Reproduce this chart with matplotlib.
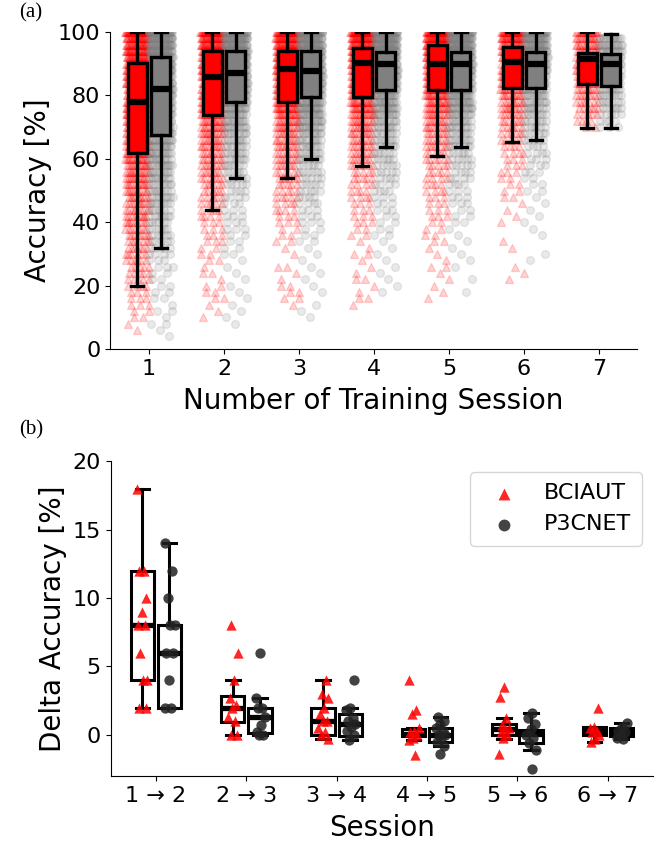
import numpy as np
import matplotlib
matplotlib.use("Agg")
import matplotlib.pyplot as plt

# ---- panel (a): accuracy per training session ----
sessions = ['1', '2', '3', '4', '5', '6', '7']
# accuracy levels of the single runs, 100 % down to 0 % in steps of 2
acc_levels = list(range(100, -1, -2))

# number of runs at each accuracy level (read from point density)
bciaut_counts = [
    [40, 30, 30, 30, 30, 30, 28, 28, 28, 26, 26, 26, 24, 24, 22, 22, 20, 20, 18, 18,
     16, 14, 14, 12, 12, 12, 10, 10, 10, 9, 9, 8, 8, 7, 7, 6, 6, 5, 5, 5,
     4, 3, 3, 3, 2, 2, 1, 1, 0, 0, 0],
    [36, 30, 30, 30, 28, 28, 28, 26, 26, 24, 22, 20, 18, 16, 14, 12, 12, 10, 10, 9,
     8, 8, 7, 7, 6, 6, 5, 5, 4, 4, 3, 3, 3, 3, 2, 2, 2, 1, 2, 1,
     2, 2, 2, 1, 1, 1, 0, 0, 0, 0, 0],
    [38, 32, 32, 30, 30, 30, 28, 28, 26, 24, 22, 20, 18, 16, 14, 12, 10, 10, 9, 8,
     8, 7, 6, 6, 5, 5, 5, 4, 4, 3, 3, 2, 2, 2, 1, 1, 0, 2, 1, 1,
     2, 2, 2, 1, 0, 0, 0, 0, 0, 0, 0],
    [40, 34, 32, 32, 30, 30, 28, 26, 24, 22, 20, 18, 16, 14, 12, 10, 10, 9, 8, 8,
     7, 6, 5, 5, 4, 4, 4, 3, 3, 3, 3, 2, 2, 1, 1, 2, 1, 1, 1, 2,
     1, 1, 2, 1, 0, 0, 0, 0, 0, 0, 0],
    [42, 36, 34, 32, 30, 28, 26, 24, 22, 20, 18, 16, 14, 12, 10, 9, 8, 8, 7, 6,
     6, 5, 5, 4, 4, 4, 3, 3, 3, 3, 2, 2, 2, 2, 1, 1, 1, 2, 1, 1,
     1, 1, 1, 0, 0, 0, 0, 0, 0, 0, 0],
    [30, 26, 24, 24, 22, 20, 18, 16, 14, 12, 11, 10, 9, 8, 7, 6, 6, 5, 4, 4,
     3, 3, 3, 2, 2, 2, 2, 1, 1, 1, 1, 0, 0, 1, 1, 0, 0, 1, 1, 1,
     0, 0, 0, 0, 0, 0, 0, 0, 0, 0, 0],
    [16, 14, 14, 14, 14, 12, 12, 10, 10, 9, 8, 7, 6, 5, 4, 2, 0, 0, 0, 0,
     0, 0, 0, 0, 0, 0, 0, 0, 0, 0, 0, 0, 0, 0, 0, 0, 0, 0, 0, 0,
     0, 0, 0, 0, 0, 0, 0, 0, 0, 0, 0],
]
p3cnet_counts = [
    [40, 32, 32, 30, 30, 30, 28, 28, 28, 26, 26, 24, 22, 22, 20, 18, 18, 16, 14, 14,
     12, 12, 10, 10, 9, 9, 8, 8, 7, 7, 6, 6, 5, 5, 5, 4, 3, 3, 2, 2,
     2, 2, 2, 1, 2, 1, 2, 1, 1, 0, 0],
    [36, 32, 30, 30, 30, 28, 28, 26, 24, 22, 20, 18, 16, 14, 12, 11, 10, 9, 8, 8,
     7, 6, 6, 5, 5, 4, 4, 3, 3, 3, 3, 3, 2, 2, 2, 2, 1, 1, 1, 1,
     1, 1, 1, 1, 1, 1, 1, 0, 0, 0, 0],
    [38, 32, 32, 30, 30, 30, 28, 28, 26, 24, 22, 20, 18, 16, 14, 12, 11, 10, 9, 8,
     7, 6, 6, 5, 5, 5, 4, 4, 3, 3, 3, 2, 2, 2, 1, 1, 1, 1, 1, 1,
     1, 1, 0, 1, 1, 1, 0, 0, 0, 0, 0],
    [40, 34, 32, 32, 30, 28, 26, 24, 22, 20, 18, 16, 14, 12, 10, 9, 8, 8, 7, 6,
     6, 5, 5, 4, 4, 4, 3, 3, 3, 2, 2, 2, 2, 1, 1, 1, 1, 1, 1, 1,
     1, 1, 0, 0, 0, 0, 0, 0, 0, 0, 0],
    [40, 34, 32, 32, 30, 28, 26, 24, 22, 20, 18, 16, 14, 12, 10, 9, 8, 8, 7, 6,
     5, 5, 4, 4, 4, 3, 3, 3, 2, 2, 2, 1, 1, 1, 1, 1, 1, 1, 0, 1,
     0, 1, 0, 0, 0, 0, 0, 0, 0, 0, 0],
    [30, 26, 24, 24, 22, 20, 18, 16, 14, 12, 11, 10, 9, 8, 7, 6, 6, 5, 4, 4,
     3, 3, 3, 2, 2, 2, 1, 1, 1, 1, 1, 1, 1, 0, 0, 1, 1, 0, 0, 0,
     0, 0, 0, 0, 0, 0, 0, 0, 0, 0, 0],
    [0, 14, 14, 14, 14, 12, 12, 10, 10, 9, 8, 7, 6, 5, 4, 3, 0, 0, 0, 0,
     0, 0, 0, 0, 0, 0, 0, 0, 0, 0, 0, 0, 0, 0, 0, 0, 0, 0, 0, 0,
     0, 0, 0, 0, 0, 0, 0, 0, 0, 0, 0],
]

# box statistics
bciaut_q1 = [61.7, 73.8, 78.0, 79.6, 81.7, 82.5, 83.6]
bciaut_med = [78.0, 85.9, 88.5, 90.1, 90.0, 90.6, 91.4]
bciaut_q3 = [90.1, 94.0, 94.0, 94.9, 95.9, 95.2, 93.5]
bciaut_lo = [20.0, 44.0, 54.0, 57.8, 61.0, 65.2, 69.6]
bciaut_hi = [100, 100, 100, 100, 100, 100, 100]
p3cnet_q1 = [67.5, 77.8, 79.6, 81.7, 81.7, 82.5, 82.9]
p3cnet_med = [81.9, 87.0, 87.8, 90.0, 90.0, 90.0, 90.0]
p3cnet_q3 = [92.0, 94.0, 94.0, 93.8, 93.8, 93.8, 93.0]
p3cnet_lo = [32.0, 53.8, 59.8, 63.8, 63.8, 66.0, 69.6]
p3cnet_hi = [100, 100, 100, 100, 100, 100, 99.3]

# ---- panel (b): accuracy change between sessions ----
transitions = ['1 → 2', '2 → 3', '3 → 4', '4 → 5', '5 → 6', '6 → 7']
bciaut_delta = [
    [18, 12, 12, 10, 9, 8, 8, 6, 4, 4, 2, 2],
    [8, 6, 4, 2.7, 2.2, 2, 1.3, 1, 0, 0],
    [4, 3, 2.7, 2, 1.5, 1, 1, 0.5, 0.2, 0, -0.3],
    [4, 1.8, 1.5, 0.5, 0.3, 0.2, 0, -0.2, -0.4, -1.5],
    [3.5, 2.8, 1.2, 0.7, 0.5, 0.4, 0.2, 0, -0.2, -1.4],
    [2, 0.6, 0.5, 0.3, 0.2, 0, -0.3, -0.5],
]
p3cnet_delta = [
    [14, 12, 10, 8, 8, 6, 6, 4, 2, 2],
    [6, 2.7, 2, 2, 1.3, 0.7, 0.2, 0, 0],
    [4, 2, 1.8, 1.2, 1, 0.8, 0.6, 0.3, 0, -0.4],
    [1.3, 1, 0.8, 0.5, 0.3, 0, 0, -0.2, -0.5, -0.8, -1.4],
    [1.6, 1.2, 0.8, 0.4, 0, -0.2, -0.6, -1.1, -2.5],
    [0.9, 0.6, 0.3, 0.2, 0, -0.2, -0.3],
]
bd_q1 = [4, 0.95, 0, -0.1, 0, 0]
bd_med = [8, 2, 1, 0.1, 0.4, 0.3]
bd_q3 = [12, 2.85, 2, 0.4, 0.8, 0.6]
bd_lo = [2, 0, -0.3, -0.4, -0.3, -0.5]
bd_hi = [18, 4, 4, 0.5, 1.2, 0.6]
pd_q1 = [2, 0.15, -0.1, -0.5, -0.6, -0.1]
pd_med = [6, 1.3, 0.8, 0, 0.1, 0.2]
pd_q3 = [8, 2, 1.5, 0.5, 0.35, 0.5]
pd_lo = [2, 0, -0.4, -0.8, -1.1, -0.3]
pd_hi = [14, 2.7, 2, 1.3, 1.6, 0.9]


def spread(n, seed, half):
    # deterministic low-discrepancy jitter in [-half, half]
    k = np.arange(n)
    return ((k * 0.618034 + seed * 0.3719) % 1.0 - 0.5) * 2 * half


def stats(q1, med, q3, lo, hi):
    return [dict(q1=a, med=b, q3=c, whislo=d, whishi=e, fliers=[])
            for a, b, c, d, e in zip(q1, med, q3, lo, hi)]


fig = plt.figure(figsize=(6.63, 8.44), dpi=100)
ax1 = fig.add_axes([0.166, 0.5865, 0.795, 0.3755])
ax2 = fig.add_axes([0.167, 0.0806, 0.818, 0.373])

off = 0.155
pos = np.arange(len(sessions))

# scatter of single runs
for i in range(len(sessions)):
    for counts, dx, col, mk in [(bciaut_counts[i], -off, 'red', '^'),
                                (p3cnet_counts[i], off, 'gray', 'o')]:
        xs, ys = [], []
        for j, (lev, n) in enumerate(zip(acc_levels, counts)):
            if n == 0:
                continue
            xs.extend(pos[i] + dx + spread(n, j + i, 0.16))
            ys.extend([lev] * n)
        ax1.scatter(xs, ys, s=32, marker=mk, color=col, alpha=0.17, zorder=1)

box_kw = dict(widths=0.25, patch_artist=True, showfliers=False,
              medianprops=dict(color='black', linewidth=4.5),
              whiskerprops=dict(color='black', linewidth=2.4),
              capprops=dict(color='black', linewidth=2.4), capwidths=0.16,
              zorder=3)
ax1.bxp(stats(bciaut_q1, bciaut_med, bciaut_q3, bciaut_lo, bciaut_hi),
        positions=pos - off,
        boxprops=dict(facecolor='red', edgecolor='black', linewidth=2.4), **box_kw)
ax1.bxp(stats(p3cnet_q1, p3cnet_med, p3cnet_q3, p3cnet_lo, p3cnet_hi),
        positions=pos + off,
        boxprops=dict(facecolor='gray', edgecolor='black', linewidth=2.4), **box_kw)

ax1.set_xlim(-0.52, 6.51)
ax1.set_ylim(0, 100)
ax1.set_xticks(pos)
ax1.set_xticklabels(sessions)
ax1.set_yticks([0, 20, 40, 60, 80, 100])
ax1.set_xlabel('Number of Training Session', fontsize=20, labelpad=6)
ax1.set_ylabel('Accuracy [%]', fontsize=20)

# ---- panel (b) ----
off2 = 0.15
pos2 = np.arange(len(transitions))
box_kw2 = dict(widths=0.26, patch_artist=True, showfliers=False,
               boxprops=dict(facecolor='none', edgecolor='black', linewidth=2.2),
               medianprops=dict(color='black', linewidth=3.8),
               whiskerprops=dict(color='black', linewidth=2.2),
               capprops=dict(color='black', linewidth=2.2), capwidths=0.15,
               zorder=2)
ax2.bxp(stats(bd_q1, bd_med, bd_q3, bd_lo, bd_hi), positions=pos2 - off2, **box_kw2)
ax2.bxp(stats(pd_q1, pd_med, pd_q3, pd_lo, pd_hi), positions=pos2 + off2, **box_kw2)

for i in range(len(transitions)):
    b = np.array(bciaut_delta[i])
    p = np.array(p3cnet_delta[i])
    ax2.scatter(pos2[i] - off2 + spread(len(b), i, 0.06), b, s=55, marker='^',
                color='red', alpha=0.85, linewidths=0, zorder=3,
                label='BCIAUT' if i == 0 else None)
    ax2.scatter(pos2[i] + off2 + spread(len(p), i + 3, 0.06), p, s=55, marker='o',
                color='#222222', alpha=0.85, linewidths=0, zorder=3,
                label='P3CNET' if i == 0 else None)

ax2.set_xlim(-0.5, 5.5)
ax2.set_ylim(-3, 20)
ax2.set_xticks(pos2)
ax2.set_xticklabels(transitions)
ax2.set_yticks([0, 5, 10, 15, 20])
ax2.set_xlabel('Session', fontsize=20, labelpad=6)
ax2.set_ylabel('Delta Accuracy [%]', fontsize=20)
ax2.legend(loc='upper right', fontsize=16, markerscale=1.15, borderpad=0.5)

for ax in (ax1, ax2):
    ax.spines['top'].set_visible(False)
    ax.spines['right'].set_visible(False)
    ax.tick_params(labelsize=16)

fig.text(0.047, 0.985, '(a)', family='Liberation Serif', fontsize=15,
         ha='center', va='center')
fig.text(0.047, 0.4905, '(b)', family='Liberation Serif', fontsize=15,
         ha='center', va='center')

fig.savefig('out.png', dpi=100)
